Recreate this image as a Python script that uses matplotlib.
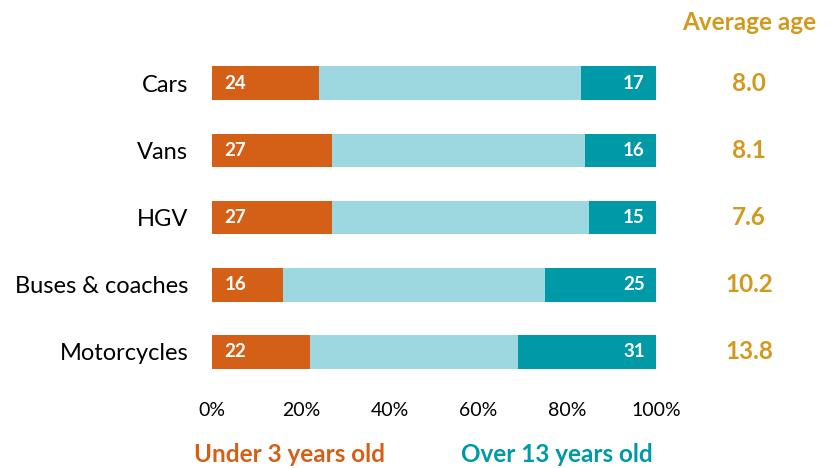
import matplotlib.pyplot as plt

plt.rcParams['font.family'] = ['Lato', 'DejaVu Sans']

categories = ['Cars', 'Vans', 'HGV', 'Buses & coaches', 'Motorcycles']
under3 = [24, 27, 27, 16, 22]
over13 = [17, 16, 15, 25, 31]
avg_age = ['8.0', '8.1', '7.6', '10.2', '13.8']
middle = [100 - u - o for u, o in zip(under3, over13)]

c_under = '#D45F17'
c_mid = '#9DD7DF'
c_over = '#0099A8'
c_avg = '#D19A1E'

fig = plt.figure(figsize=(8.34, 4.68), dpi=100)
ax = fig.add_axes([212/834, 1-385.5/468, 444/834, 336/468])

y = list(range(len(categories)))
ax.barh(y, under3, height=0.5, color=c_under)
ax.barh(y, middle, left=under3, height=0.5, color=c_mid)
lefts = [u + m for u, m in zip(under3, middle)]
ax.barh(y, over13, left=lefts, height=0.5, color=c_over)

for i in y:
    ax.text(2.8, i, str(under3[i]), color='white', fontweight='bold', fontsize=13.5,
            va='center', ha='left')
    ax.text(97.5, i, str(over13[i]), color='white', fontweight='bold', fontsize=13.5,
            va='center', ha='right')
    ax.text(121, i, avg_age[i], color=c_avg, fontweight='bold', fontsize=17.5,
            va='center', ha='center')

ax.set_ylim(len(categories) - 0.5, -0.5)
ax.set_xlim(0, 100)
ax.set_yticks(y)
ax.set_yticklabels(categories, fontsize=17)
ax.set_xticks([0, 20, 40, 60, 80, 100])
ax.set_xticklabels(['0%', '20%', '40%', '60%', '80%', '100%'], fontsize=14)
ax.tick_params(length=0)
ax.tick_params(axis='y', pad=17)
ax.tick_params(axis='x', pad=12)
for s in ax.spines.values():
    s.set_visible(False)

fig.text(749/834, 1-22/468, 'Average age', color=c_avg, fontweight='bold',
         fontsize=17.5, ha='center', va='center')
fig.text(289/834, 1-455/468, 'Under 3 years old', color=c_under, fontweight='bold',
         fontsize=17.5, ha='center', va='center')
fig.text(557/834, 1-455/468, 'Over 13 years old', color=c_over, fontweight='bold',
         fontsize=17.5, ha='center', va='center')

fig.savefig('out.png', dpi=100)
